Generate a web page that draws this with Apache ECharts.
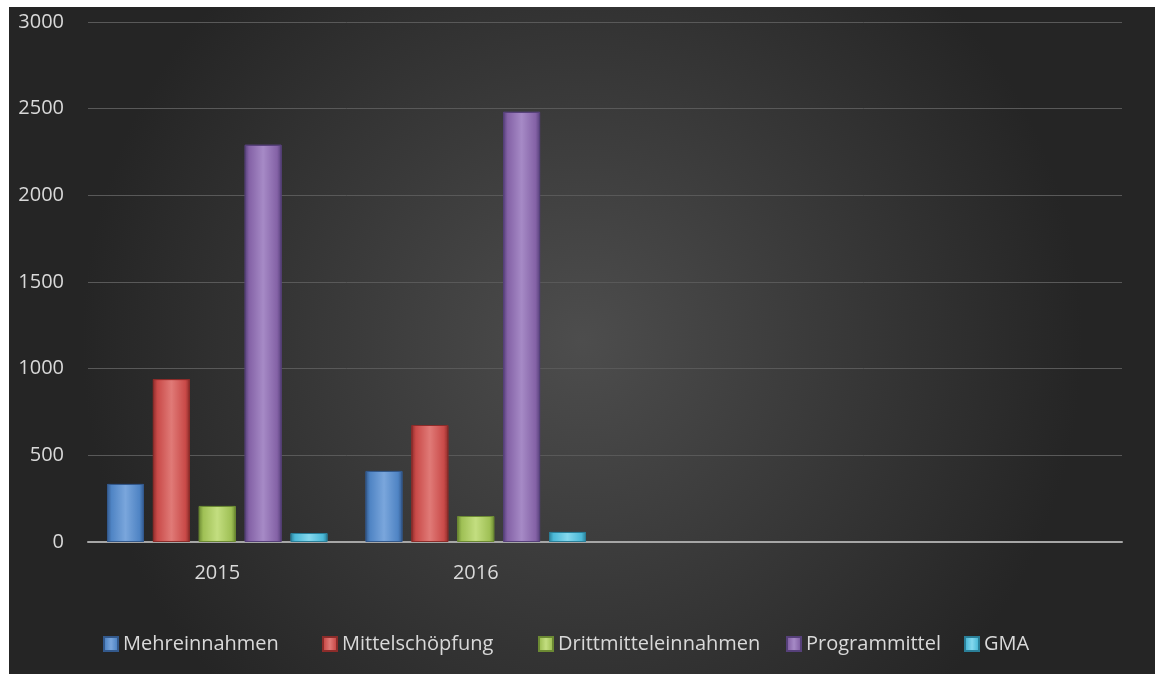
<!DOCTYPE html>
<html>
<head>
<meta charset="utf-8">
<script src="https://cdn.jsdelivr.net/npm/echarts@6/dist/echarts.min.js"></script>
<style>
  html, body { margin: 0; padding: 0; background: #fff; }
  #main { position: absolute; left: 9px; top: 7px; width: 1146px; height: 667px; }
</style>
</head>
<body>
<div id="main"></div>
<script>
// Daten
var years = ["2015", "2016", "", ""];
var mehreinnahmen = [335, 410];
var mittelschoepfung = [940, 675];
var drittmittel = [208, 150];
var programmittel = [2292, 2482];
var gma = [52, 58];
var yTicks = [0, 500, 1000, 1500, 2000, 2500, 3000];

var seriesInfo = [
  { name: "Mehreinnahmen", data: mehreinnahmen, color: "#4f84c4", light: "#7aa6dc", dark: "#33598c" },
  { name: "Mittelschöpfung", data: mittelschoepfung, color: "#c94a48", light: "#e07a77", dark: "#8c2c2a" },
  { name: "Drittmitteleinnahmen", data: drittmittel, color: "#9fc055", light: "#c3de80", dark: "#6c8a33" },
  { name: "Programmittel", data: programmittel, color: "#8462a6", light: "#a68ac6", dark: "#56407a" },
  { name: "GMA", data: gma, color: "#4bb8d6", light: "#84d8ee", dark: "#2a7f98" }
];
// Legendenposition je Eintrag (x im Chart)
var legendLeft = [89, 308, 524, 772, 950];

var chartDom = document.getElementById("main");
var myChart = echarts.init(chartDom);

const makeSeries = info => {
  return {
    name: info.name,
    type: "bar",
    data: info.data,
    barWidth: 37,
    barGap: "24%",
    itemStyle: {
      color: new echarts.graphic.LinearGradient(0, 0, 1, 0, [
        { offset: 0, color: info.dark },
        { offset: 0.12, color: info.color },
        { offset: 0.5, color: info.light },
        { offset: 0.88, color: info.color },
        { offset: 1, color: info.dark }
      ]),
      borderColor: info.dark,
      borderWidth: 1
    }
  };
};

const makeLegend = (info, i) => {
  return {
    top: 622,
    left: legendLeft[i],
    itemWidth: 14,
    itemHeight: 14,
    icon: "rect",
    textStyle: { color: "#d9d9d9", fontSize: 20, fontFamily: "Open Sans" },
    data: [info.name]
  };
};

var option = {
  backgroundColor: {
    type: "radial",
    x: 0.5,
    y: 0.5,
    r: 0.75,
    colorStops: [
      { offset: 0, color: "#4d4d4d" },
      { offset: 1, color: "#252525" }
    ]
  },
  textStyle: { fontFamily: "Open Sans" },
  color: seriesInfo.map(s => s.color),
  grid: {
    left: 79,
    right: 33,
    top: 15,
    bottom: 132
  },
  legend: seriesInfo.map(makeLegend),
  xAxis: {
    type: "category",
    data: years,
    axisLine: { lineStyle: { color: "#a6a6a6", width: 2 } },
    axisTick: { show: false },
    axisLabel: { color: "#d9d9d9", fontSize: 20, margin: 21 }
  },
  yAxis: {
    type: "value",
    min: yTicks[0],
    max: yTicks[yTicks.length - 1],
    interval: 500,
    axisLine: { show: false },
    axisTick: { show: false },
    axisLabel: {
      color: "#d9d9d9",
      fontSize: 20,
      margin: 24,
      formatter: function(v) {
        return String(v);
      }
    },
    splitLine: { lineStyle: { color: "#595959", width: 1 } }
  },
  series: seriesInfo.map(makeSeries)
};

myChart.setOption(option);
window.onresize = function() {
  myChart.resize();
};
</script>
</body>
</html>
